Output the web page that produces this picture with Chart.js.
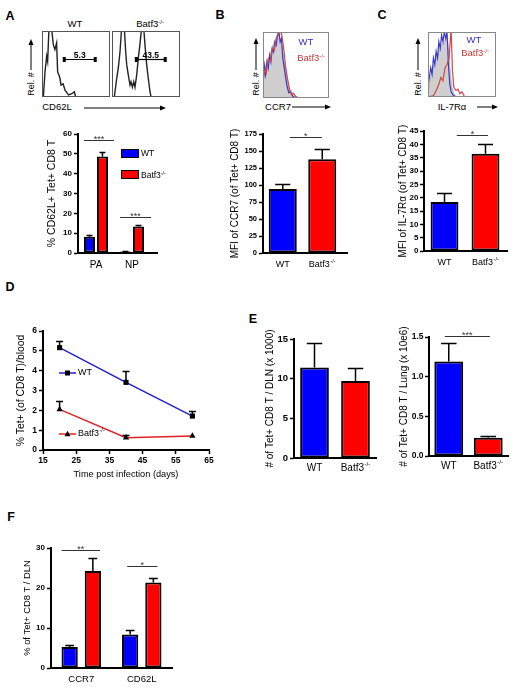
<!DOCTYPE html>
<html><head><meta charset="utf-8">
<script src="https://cdn.jsdelivr.net/npm/chart.js@4.4.0/dist/chart.umd.min.js"></script>
<style>
html,body{margin:0;padding:0;background:#fff;}
#fig{position:relative;width:520px;height:695px;overflow:hidden;font-family:"Liberation Sans",Arial,sans-serif;color:#000;background:#fff;}
#fig canvas{position:absolute;}
.t{position:absolute;white-space:nowrap;line-height:1;transform:translate(-50%,-50%);}
.t.r{transform:translate(-50%,-50%) rotate(-90deg);}
.t.l{transform:translate(0,-50%);}
.b{font-weight:bold;}
sup{font-size:0.62em;vertical-align:0;position:relative;top:-0.55em;}
.sw{position:absolute;box-sizing:border-box;border:1.5px solid #000;}
</style></head>
<body><div id="fig"></div>
<script>
// ---------------- DATA ----------------
// Panel A (bar): % CD62L+ of Tet+ CD8 T
const catsA = ['PA', 'NP'];
const wtA = [8.2, 0.7];
const wtErrA = [1.0, 0.3];
const koA = [48.6, 13.3];
const koErrA = [2.2, 0.8];
const yTicksA = [0, 10, 20, 30, 40, 50, 60];
const sigTextA = ['***', '***'];
// Panel A histograms (CD62L); x = % of axis, y = relative count
const histWTx = [0, 2, 4.4, 6.9, 8.3, 10.3, 14, 16.7, 19, 21.5, 23, 25, 26.5, 28, 31, 34, 39, 44, 47.5, 49.5, 100];
const histWTy = [0, 0, 0.38, 0.62, 0.54, 1.05, 1.05, 0.79, 0.72, 0.82, 0.38, 0.33, 0.28, 0.18, 0.2, 0.1, 0.03, 0.05, 0.08, 0, 0];
const histKOx = [0, 3.4, 6.9, 9.3, 11.8, 14.2, 18.1, 20.1, 21.6, 24, 26.5, 28, 30, 32, 33.8, 36.3, 38.7, 41, 43.6, 46.6, 48.5, 51, 53.4, 55.9, 57.4, 100];
const histKOy = [0, 0, 0.28, 0.44, 0.69, 1.05, 1.05, 0.69, 0.49, 0.33, 0.18, 0.23, 0.15, 0.23, 0.15, 0.33, 0.59, 0.79, 1.05, 1.05, 0.79, 0.49, 0.28, 0.08, 0, 0];
const gateLabelsA = ['5.3', '43.5'];
// Panel B: CCR7
const catsB = ['WT', 'Batf3-/-'];
const valsB = [94, 138];
const errsB = [7, 15];
const yTicksB = [0, 25, 50, 75, 100, 125, 150, 175];
const sigTextB = ['*'];
const histB_greyX = [0, 3, 6, 9, 12, 15, 18, 21, 24, 27, 30, 33, 36, 39, 42, 45, 48, 100];
const histB_greyY = [0.35, 0.45, 0.55, 0.6, 0.7, 0.8, 0.85, 0.95, 1.0, 0.85, 0.7, 0.5, 0.3, 0.15, 0.05, 0.01, 0, 0];
const histB_wtX = [0, 2, 4, 6, 8, 10, 12, 14, 16, 18, 20, 22, 24, 26, 28, 30, 33, 36, 39, 42, 45, 50, 100];
const histB_wtY = [0.3, 0.5, 0.35, 0.55, 0.45, 0.65, 0.55, 0.75, 0.7, 0.85, 0.8, 0.95, 1.0, 0.85, 0.9, 0.6, 0.4, 0.2, 0.08, 0.1, 0.03, 0, 0];
const histB_koX = [0, 1, 3, 5, 8, 11, 14, 17, 20, 23, 26, 28, 30, 32, 34, 37, 40, 43, 46, 50, 55, 100];
const histB_koY = [0.45, 0.3, 0.42, 0.38, 0.6, 0.55, 0.75, 0.72, 0.9, 0.95, 1.0, 0.98, 0.85, 0.7, 0.5, 0.3, 0.15, 0.05, 0.07, 0.02, 0, 0];
// Panel C: IL-7Ra
const catsC = ['WT', 'Batf3-/-'];
const valsC = [18.4, 36.5];
const errsC = [3.5, 3.8];
const yTicksC = [0, 5, 10, 15, 20, 25, 30, 35, 40, 45];
const sigTextC = ['*'];
const histC_greyX = [0, 3, 6, 9, 12, 15, 18, 21, 24, 27, 29, 31, 33, 35, 38, 42, 100];
const histC_greyY = [0.05, 0.25, 0.4, 0.5, 0.6, 0.65, 0.75, 0.8, 0.85, 0.9, 0.85, 0.6, 0.35, 0.15, 0.05, 0, 0];
const histC_wtX = [0, 0.5, 2, 4, 6, 8, 10, 12, 14, 16, 18, 20, 22, 24, 26, 28, 30, 32, 34, 37, 40, 100];
const histC_wtY = [0.9, 0.2, 0.3, 0.45, 0.35, 0.6, 0.5, 0.7, 0.6, 0.85, 0.75, 0.95, 0.85, 1.0, 0.9, 1.0, 0.5, 0.2, 0.08, 0.03, 0, 0];
const histC_koX = [0, 8, 12, 16, 19, 22, 25, 28, 31, 34, 35, 36, 38, 41, 44, 47, 50, 54, 100];
const histC_koY = [0, 0.02, 0.1, 0.2, 0.3, 0.25, 0.45, 0.5, 0.6, 1.05, 1.05, 0.4, 0.15, 0.1, 0.12, 0.05, 0.08, 0, 0];
// Panel D: time course
const daysD = [20, 40, 60];
const wtD = [5.16, 3.41, 1.71];
const wtErrD = [0.35, 0.57, 0.27];
const koD = [2.05, 0.62, 0.71];
const koErrD = [0.44, 0.14, 0];
const xTicksD = [15, 25, 35, 45, 55, 65];
const yTicksD = [0, 1, 2, 3, 4, 5, 6];
// Panel E
const catsE = ['WT', 'Batf3-/-'];
const dlnE = [11.4, 9.7];
const dlnErrE = [3.05, 1.6];
const yTicksE1 = [0, 5, 10, 15];
const lungE = [1.19, 0.23];
const lungErrE = [0.24, 0.02];
const yTicksE2 = [0, 0.5, 1.0, 1.5];
const sigTextE = ['***'];
// Panel F
const catsF = ['CCR7', 'CD62L'];
const wtF = [5.25, 8.35];
const wtErrF = [0.55, 1.05];
const koF = [24.25, 21.35];
const koErrF = [3.35, 1.25];
const yTicksF = [0, 10, 20, 30];
const sigTextF = ['**', '*'];

// ---------------- RENDERING ----------------
const FF = '"Liberation Sans", Arial, sans-serif';
const BLUE = '#0000ff', RED = '#ff0000';
const fig = document.getElementById('fig');
const extras = {};

function mkCanvas(id, left, top, w, h) {
  const c = document.createElement('canvas');
  c.id = id; c.width = w; c.height = h;
  c.style.left = left + 'px'; c.style.top = top + 'px';
  c.style.width = w + 'px'; c.style.height = h + 'px';
  fig.appendChild(c);
  return c;
}
function lab(html, x, y, cls, style) {
  const d = document.createElement('div');
  d.className = 't ' + (cls || '');
  d.innerHTML = html;
  d.style.left = x + 'px'; d.style.top = y + 'px';
  if (style) d.style.cssText += style;
  fig.appendChild(d);
}
function supText(ctx, str, cx, cy, size, bold, align) {
  const m = str.match(/^(.*?)(-\/-)$/);
  const base = m ? m[1] : str, sup = m ? m[2] : '';
  const bf = (bold ? 'bold ' : '') + size + 'px ' + FF;
  const sf = (bold ? 'bold ' : '') + (size * 0.62) + 'px ' + FF;
  ctx.font = bf; const wb = ctx.measureText(base).width;
  ctx.font = sf; const ws = sup ? ctx.measureText(sup).width + 0.5 : 0;
  const x0 = align === 'left' ? cx : cx - (wb + ws) / 2;
  ctx.textAlign = 'left'; ctx.textBaseline = 'middle';
  ctx.font = bf; ctx.fillText(base, x0, cy);
  if (sup) { ctx.font = sf; ctx.fillText(sup, x0 + wb + 0.5, cy - size * 0.42); }
}

Chart.register({
  id: 'fig',
  afterDatasetsDraw(chart) {
    const e = extras[chart.canvas.id]; if (!e || !e.errs) return;
    const ctx = chart.ctx, ys = chart.scales.y;
    ctx.save(); ctx.strokeStyle = '#000'; ctx.lineWidth = e.errW || 1.5;
    chart.data.datasets.forEach((ds, i) => {
      const meta = chart.getDatasetMeta(i);
      meta.data.forEach((el, j) => {
        const err = e.errs[i] && e.errs[i][j]; if (!err) return;
        const raw = ds.data[j]; const v = typeof raw === 'object' ? raw.y : raw;
        const yt = Math.round(ys.getPixelForValue(v + err)) + 0.5;
        const half = e.cap != null ? e.cap : el.width * 0.27;
        ctx.beginPath();
        ctx.moveTo(el.x, el.y); ctx.lineTo(el.x, yt);
        ctx.moveTo(el.x - half, yt); ctx.lineTo(el.x + half, yt);
        ctx.stroke();
      });
    });
    ctx.restore();
  },
  afterDraw(chart) {
    const e = extras[chart.canvas.id]; if (!e) return;
    const ctx = chart.ctx, ca = chart.chartArea, xs = chart.scales.x, ys = chart.scales.y;
    ctx.save();
    if (e.box) {
      ctx.strokeStyle = e.box; ctx.lineWidth = 1;
      ctx.strokeRect(ca.left + 0.5, ca.top + 0.5, ca.right - ca.left - 1, ca.bottom - ca.top - 1);
    }
    if (e.ext) {
      ctx.strokeStyle = '#000'; ctx.lineWidth = 2; ctx.beginPath();
      ctx.moveTo(ca.right - 1, ca.bottom); ctx.lineTo(ca.right + e.ext, ca.bottom); ctx.stroke();
    }
    if (e.cats) {
      ctx.fillStyle = '#000';
      chart.data.labels.forEach((l, i) => supText(ctx, l, xs.getPixelForValue(i), ca.bottom + e.cats.dy, e.cats.size, false, 'center'));
    }
    if (e.sig) {
      e.sig.forEach(s => {
        const x0 = xs.getPixelForValue(s.a), x1 = xs.getPixelForValue(s.b);
        const y = Math.round(ys.getPixelForValue(s.v)) + 0.5;
        ctx.strokeStyle = '#333'; ctx.lineWidth = 1;
        ctx.beginPath(); ctx.moveTo(x0, y); ctx.lineTo(x1, y); ctx.stroke();
        ctx.fillStyle = '#333'; ctx.font = (e.sigSize || 9) + 'px ' + FF;
        ctx.textAlign = 'center'; ctx.textBaseline = 'alphabetic';
        ctx.fillText(s.t, (x0 + x1) / 2, y + 1);
      });
    }
    if (e.gates) {
      e.gates.forEach(g => {
        const x0 = xs.getPixelForValue(g.a), x1 = xs.getPixelForValue(g.b);
        const y = Math.round(ys.getPixelForValue(g.v)) + 0.5;
        ctx.strokeStyle = '#000'; ctx.lineWidth = 1.2;
        ctx.beginPath(); ctx.moveTo(x0, y); ctx.lineTo(x1, y); ctx.stroke();
        ctx.fillStyle = '#000';
        ctx.fillRect(x0 - 1, y - 2.5, 3, 5); ctx.fillRect(x1 - 2, y - 2.5, 3, 5);
        ctx.font = 'bold 8.5px ' + FF; ctx.textAlign = 'center'; ctx.textBaseline = 'alphabetic';
        ctx.fillText(g.t, (x0 + x1) / 2, y - 1.5);
      });
    }
    if (e.legend) {
      e.legend.forEach(l => {
        const x = ca.left + l.dx, y = ca.top + l.dy;
        ctx.strokeStyle = l.color; ctx.lineWidth = 1.5;
        ctx.beginPath(); ctx.moveTo(x, y); ctx.lineTo(x + 17, y); ctx.stroke();
        ctx.fillStyle = '#000';
        const mx = x + 8.5;
        if (l.style === 'rect') ctx.fillRect(mx - 2.5, y - 2.5, 5, 5);
        else { ctx.beginPath(); ctx.moveTo(mx, y - 3.2); ctx.lineTo(mx + 3, y + 2.3); ctx.lineTo(mx - 3, y + 2.3); ctx.closePath(); ctx.fill(); }
        supText(ctx, l.text, x + 19, y, 9, false, 'left');
      });
    }
    ctx.restore();
  }
});

const baseOpts = (box) => ({
  responsive: false, animation: false, devicePixelRatio: 1, events: [],
  layout: { padding: { top: box.PT, right: box.PR, left: 0, bottom: 0 } },
  plugins: { legend: { display: false }, tooltip: { enabled: false } }
});
function yScale(ticks, W, o) {
  return {
    min: ticks[0], max: ticks[ticks.length - 1],
    afterFit: s => { s.width = W; },
    ticks: { stepSize: ticks[1] - ticks[0], font: { family: FF, size: o.tickSize, weight: 'bold' }, color: '#000', padding: o.tickPad != null ? o.tickPad : 2,
      callback: o.fmt || (v => v) },
    grid: { display: true, drawOnChartArea: false, drawTicks: true, tickLength: 4, tickWidth: 1.5, tickColor: '#000' },
    border: { display: true, width: 2, color: '#000' },
    title: { display: true, text: o.yTitle, font: { family: FF, size: o.titleSize }, color: '#000', padding: 0 }
  };
}
function barChart(id, box, o) {
  const cv = mkCanvas(id, box.left, box.top, box.w, box.h);
  extras[id] = o.extra;
  const opts = baseOpts(box);
  opts.scales = {
    x: { offset: true, grid: { display: false }, border: { display: true, width: 2, color: '#000' }, ticks: { display: false },
         afterFit: s => { s.height = box.H; } },
    y: yScale(o.ticks, box.W, o)
  };
  return new Chart(cv, { type: 'bar', data: { labels: o.labels, datasets: o.datasets }, options: opts });
}
function bds(data, color, bp, cp) {
  return { data, backgroundColor: color, borderColor: '#000', borderWidth: 2, borderSkipped: false, barPercentage: bp, categoryPercentage: cp };
}
function histChart(id, left, top, w, h, sets, extra) {
  const cv = mkCanvas(id, left, top, w, h);
  extras[id] = extra;
  return new Chart(cv, {
    type: 'line',
    data: { datasets: sets.map(s => ({
      data: s.x.map((x, i) => ({ x, y: s.y[i] })),
      borderColor: s.color, borderWidth: s.bw || 1,
      backgroundColor: s.fill || 'transparent', fill: s.fill ? 'origin' : false,
      pointRadius: 0, tension: 0 })) },
    options: Object.assign(baseOpts({ PT: 0, PR: 0 }), {
      scales: { x: { type: 'linear', min: 0, max: 100, display: false }, y: { min: 0, max: 1, display: false } }
    })
  });
}

// ---- Panel A histograms ----
histChart('hA1', 42, 31, 68, 66, [{ x: histWTx, y: histWTy, color: '#222', bw: 1.4 }],
  { box: '#555', gates: [{ a: 32, b: 79, v: 0.58, t: gateLabelsA[0] }] });
histChart('hA2', 112, 31, 68, 66, [{ x: histKOx, y: histKOy, color: '#222', bw: 1.4 }],
  { box: '#555', gates: [{ a: 35, b: 79, v: 0.58, t: gateLabelsA[1] }] });
// ---- Panel B histogram ----
histChart('hB', 263, 32, 66, 66, [
  { x: histB_koX, y: histB_koY, color: '#d04848', bw: 1.2 },
  { x: histB_wtX, y: histB_wtY, color: '#3a3ac8', bw: 1.2 },
  { x: histB_greyX, y: histB_greyY, color: '#aaaaaa', fill: '#cfcfcf', bw: 0.8 }
], { box: '#888' });
// ---- Panel C histogram ----
histChart('hC', 428, 32, 68, 65, [
  { x: histC_koX, y: histC_koY, color: '#d04848', bw: 1.2 },
  { x: histC_wtX, y: histC_wtY, color: '#3a3ac8', bw: 1.2 },
  { x: histC_greyX, y: histC_greyY, color: '#aaaaaa', fill: '#cfcfcf', bw: 0.8 }
], { box: '#888' });

// ---- Panel A bar ----
barChart('cA', { left: 46, top: 122, w: 116, h: 151, W: 32, H: 20, PT: 12, PR: 12 }, {
  labels: catsA, ticks: yTicksA, tickSize: 8, titleSize: 10.5, yTitle: '% CD62L+ Tet+ CD8 T',
  datasets: [bds(wtA, BLUE, 0.85, 0.72), bds(koA, RED, 0.85, 0.72)],
  extra: { errs: [wtErrA, koErrA], ext: 8, cats: { dy: 12, size: 10 },
    sig: [{ a: -0.33, b: 0.5, v: 57, t: sigTextA[0] }, { a: 0.67, b: 1.53, v: 18.2, t: sigTextA[1] }] }
});
// ---- Panel B bar ----
barChart('cB', { left: 229, top: 120, w: 123, h: 153, W: 34, H: 20, PT: 14, PR: 10 }, {
  labels: catsB, ticks: yTicksB, tickSize: 7.5, titleSize: 10, yTitle: 'MFI of CCR7 (of Tet+ CD8 T)',
  datasets: [bds(valsB, [BLUE, RED], 0.71, 1)],
  extra: { errs: [errsB], ext: 6, cats: { dy: 12, size: 9 },
    sig: [{ a: 0.18, b: 0.99, v: 170.6, t: sigTextB[0] }] }
});
// ---- Panel C bar ----
barChart('cC', { left: 397, top: 117, w: 115, h: 154, W: 27, H: 20, PT: 14, PR: 6 }, {
  labels: catsC, ticks: yTicksC, tickSize: 8, tickPad: 1.5, titleSize: 10, yTitle: 'MFI of IL-7R\u03b1 (of Tet+ CD8 T)',
  datasets: [bds(valsC, [BLUE, RED], 0.68, 1)],
  extra: { errs: [errsC], ext: 2, cats: { dy: 12, size: 9 },
    sig: [{ a: 0.3, b: 1.06, v: 43.5, t: sigTextC[0] }] }
});
// ---- Panel D line ----
(function () {
  const box = { PT: 8, PR: 10 };
  const cv = mkCanvas('cD', 15, 323, 204, 157);
  extras.cD = { errs: [wtErrD, koErrD], cap: 3.5,
    legend: [{ dx: 16, dy: 42, color: '#2020d0', style: 'rect', text: 'WT' },
             { dx: 16, dy: 103, color: '#e02020', style: 'triangle', text: 'Batf3-/-' }] };
  const opts = baseOpts(box);
  opts.scales = {
    x: { type: 'linear', min: xTicksD[0], max: xTicksD[xTicksD.length - 1], afterFit: s => { s.height = 30; },
         ticks: { stepSize: xTicksD[1] - xTicksD[0], font: { family: FF, size: 8.5, weight: 'bold' }, color: '#000', padding: 2 },
         grid: { display: true, drawOnChartArea: false, drawTicks: true, tickLength: 4, tickWidth: 1.5, tickColor: '#000' },
         border: { display: true, width: 2, color: '#000' },
         title: { display: true, text: 'Time post infection (days)', font: { family: FF, size: 9.2 }, color: '#000', padding: 0 } },
    y: yScale(yTicksD, 28, { tickSize: 8.5, titleSize: 10.4, yTitle: '% Tet+ (of CD8 T)/blood' })
  };
  new Chart(cv, {
    type: 'line',
    data: { datasets: [
      { label: 'WT', data: daysD.map((d, i) => ({ x: d, y: wtD[i] })), borderColor: '#2020d0', borderWidth: 1.5, tension: 0,
        pointStyle: 'rect', pointRadius: 3.6, pointBackgroundColor: '#000', pointBorderColor: '#000', pointBorderWidth: 0 },
      { label: 'Batf3-/-', data: daysD.map((d, i) => ({ x: d, y: koD[i] })), borderColor: '#e02020', borderWidth: 1.5, tension: 0,
        pointStyle: 'triangle', pointRadius: 3.6, pointBackgroundColor: '#000', pointBorderColor: '#000', pointBorderWidth: 0 }
    ] },
    options: opts
  });
})();
// ---- Panel E bars ----
barChart('cE1', { left: 264, top: 319, w: 116, h: 159, W: 30, H: 20, PT: 20, PR: 4 }, {
  labels: catsE, ticks: yTicksE1, tickSize: 9.5, titleSize: 10, yTitle: '# of Tet+ CD8 T / DLN (x 1000)',
  datasets: [bds(dlnE, [BLUE, RED], 0.7, 1)],
  extra: { errs: [dlnErrE], cats: { dy: 10.5, size: 10 } }
});
barChart('cE2', { left: 398, top: 317, w: 116, h: 159, W: 31, H: 20, PT: 20, PR: 6 }, {
  labels: catsE, ticks: yTicksE2, tickSize: 8.5, tickPad: 1.5, titleSize: 10, yTitle: '# of Tet+ CD8 T / Lung (x 10e6)',
  fmt: v => Number(v).toFixed(1),
  datasets: [bds(lungE, [BLUE, RED], 0.73, 1)],
  extra: { errs: [lungErrE], cats: { dy: 10.5, size: 10 },
    sig: [{ a: -0.1, b: 1.04, v: 1.51, t: sigTextE[0] }] }
});
// ---- Panel F bars ----
barChart('cF', { left: 22, top: 540, w: 156, h: 148, W: 29, H: 20, PT: 8, PR: 6 }, {
  labels: catsF, ticks: yTicksF, tickSize: 8, titleSize: 9.4, yTitle: '% of Tet+ CD8 T / DLN',
  datasets: [bds(wtF, BLUE, 0.7, 0.767), bds(koF, RED, 0.7, 0.767)],
  extra: { errs: [wtErrF, koErrF], cats: { dy: 11, size: 9.5 },
    sig: [{ a: -0.325, b: 0.31, v: 29.5, t: sigTextF[0] }, { a: 0.76, b: 1.26, v: 25.5, t: sigTextF[1] }] }
});

// ---- HTML text / decorations ----
[['A', 10, 16], ['B', 220, 15], ['C', 382, 15], ['D', 10, 287], ['E', 253, 319], ['F', 11, 517]]
  .forEach(p => lab(p[0], p[1], p[2], 'b', 'font-size:12.5px'));
lab('WT', 75, 24, '', 'font-size:9.5px');
lab('Batf3<sup>-/-</sup>', 150, 24, '', 'font-size:9.5px');
lab('Rel. #', 31, 84, 'r', 'font-size:9px');
lab('Rel. #', 256, 84, 'r', 'font-size:9px');
lab('Rel. #', 418, 84, 'r', 'font-size:9px');
lab('CD62L', 57, 107, '', 'font-size:9.5px');
lab('CCR7', 278, 107, '', 'font-size:9.5px');
lab('IL-7R&alpha;', 452, 107, '', 'font-size:9.5px');
lab('WT', 306, 42, '', 'font-size:9.5px;color:#3030c0');
lab('Batf3<sup>-/-</sup>', 311, 58, '', 'font-size:9.5px;color:#c83838');
lab('WT', 474, 40, '', 'font-size:9.5px;color:#3030c0');
lab('Batf3<sup>-/-</sup>', 475, 53, '', 'font-size:9.5px;color:#c83838');
// legend A
[[BLUE, 149, 'WT', 153], [RED, 170, 'Batf3<sup>-/-</sup>', 175]].forEach(l => {
  const s = document.createElement('div'); s.className = 'sw';
  s.style.cssText += `left:121px;top:${l[1]}px;width:18px;height:8.5px;background:${l[0]}`;
  fig.appendChild(s);
  lab(l[2], 141, l[3], 'l', 'font-size:8.5px');
});
// arrows
(function () {
  const ns = 'http://www.w3.org/2000/svg';
  const svg = document.createElementNS(ns, 'svg');
  svg.setAttribute('width', 520); svg.setAttribute('height', 695);
  svg.style.cssText = 'position:absolute;left:0;top:0;';
  const arrows = [[31, 70, 31, 39], [256, 70, 256, 38], [418, 70, 418, 38], [84, 108, 166, 108], [292, 107, 331, 107], [477, 107, 498, 107]];
  arrows.forEach(a => {
    const [x0, y0, x1, y1] = a;
    const ln = document.createElementNS(ns, 'line');
    const dx = Math.sign(x1 - x0), dy = Math.sign(y1 - y0);
    ln.setAttribute('x1', x0); ln.setAttribute('y1', y0); ln.setAttribute('x2', x1 - dx * 4); ln.setAttribute('y2', y1 - dy * 4);
    ln.setAttribute('stroke', '#000'); ln.setAttribute('stroke-width', 1);
    svg.appendChild(ln);
    const p = document.createElementNS(ns, 'path');
    let d;
    if (dx) d = `M${x1},${y1} L${x1 - dx * 6},${y1 - 2.5} L${x1 - dx * 6},${y1 + 2.5} Z`;
    else d = `M${x1},${y1} L${x1 - 2.5},${y1 - dy * 6} L${x1 + 2.5},${y1 - dy * 6} Z`;
    p.setAttribute('d', d); p.setAttribute('fill', '#000');
    svg.appendChild(p);
  });
  fig.insertBefore(svg, fig.firstChild);
})();
</script></body></html>
